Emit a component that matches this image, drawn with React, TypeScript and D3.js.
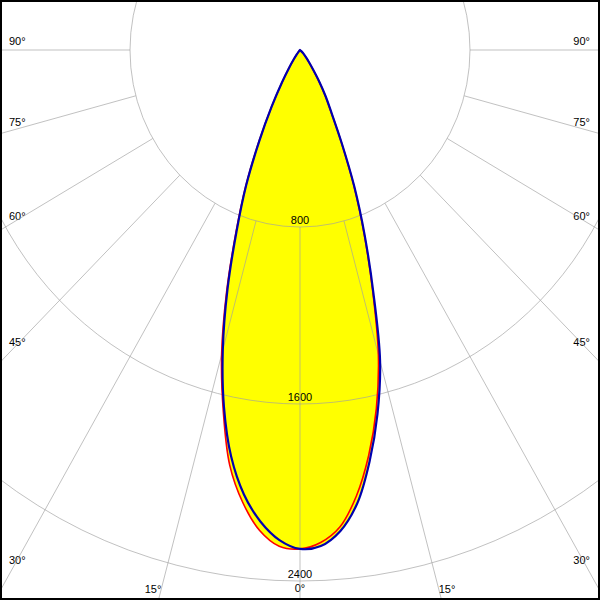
import React from "react";
import * as d3 from "d3";

// Polar angles (gamma, degrees) at which intensities are sampled
const GAMMA = [0, 2.5, 5, 7.5, 10, 12.5, 15, 17.5, 20, 22.5, 25, 27.5, 30, 32.5, 35, 37.5, 40, 45, 50, 55, 60, 70, 80, 90];

// Red curve (C0 - C180 plane), cd
const RED_RIGHT = [2255, 2228, 2163, 2033, 1861, 1660, 1425, 1135, 880, 660, 460, 318, 235, 160, 100, 65, 45, 20, 5, 0, 0, 0, 0, 0];
const RED_LEFT = [2255, 2245, 2180, 2063, 1905, 1669, 1425, 1150, 885, 668, 458, 292, 172, 96, 50, 25, 12, 3, 0, 0, 0, 0, 0, 0];
// Blue curve (C90 - C270 plane), cd
const BLUE_RIGHT = [2257, 2244, 2182, 2066, 1887, 1685, 1456, 1147, 889, 667, 465, 323, 240, 165, 105, 70, 48, 22, 6, 0, 0, 0, 0, 0];
const BLUE_LEFT = [2255, 2217, 2139, 2025, 1866, 1653, 1404, 1135, 874, 662, 452, 289, 170, 95, 50, 25, 12, 3, 0, 0, 0, 0, 0, 0];

// Grid
const RINGS = [800, 1600, 2400, 3200];
const RING_LABELS = ["800", "1600", "2400"];
const SPOKES = [0, 15, 30, 45, 60, 75, 90];
const SPOKE_LABELS = ["0°", "15°", "30°", "45°", "60°", "75°", "90°"];

const W = 600;
const H = 600;
const CX = 300;
const CY = 50;

const rx = d3.scaleLinear().domain([0, 800]).range([0, 170]);
const ry = d3.scaleLinear().domain([0, 800]).range([0, 177]);

const rad = (deg: number) => (deg * Math.PI) / 180;
const px = (side: number, g: number, I: number) => CX + side * rx(I * Math.sin(rad(g)));
const py = (g: number, I: number) => CY + ry(I * Math.cos(rad(g)));

function curvePoints(left: number[], right: number[]): [number, number][] {
  const pts: [number, number][] = [];
  // left side from tip down to 0
  let li = left.findIndex((v) => v === 0);
  if (li < 0) li = left.length - 1;
  for (let i = li; i >= 0; i--) pts.push([px(-1, GAMMA[i], left[i]), py(GAMMA[i], left[i])]);
  let ri = right.findIndex((v) => v === 0);
  if (ri < 0) ri = right.length - 1;
  for (let i = 1; i <= ri; i++) pts.push([px(1, GAMMA[i], right[i]), py(GAMMA[i], right[i])]);
  return pts;
}

const line = d3.line().curve(d3.curveCatmullRom.alpha(0.5));

export default function App() {
  const red = curvePoints(RED_LEFT, RED_RIGHT);
  const blue = curvePoints(BLUE_LEFT, BLUE_RIGHT);
  const redPath = line(red) + "Z";
  const bluePath = line(blue) + "Z";

  const font = "'Liberation Sans', Arial, sans-serif";
  const gridStroke = "#a0a0a0";
  const gridOpacity = 0.65;

  // ring ellipses
  const rings = RINGS.map((r) => (
    <ellipse key={"r" + r} cx={CX} cy={CY} rx={rx(r)} ry={ry(r)} fill="none" stroke={gridStroke} strokeOpacity={gridOpacity} strokeWidth={1} />
  ));

  // spokes from first ring outward
  const spokes: JSX.Element[] = [];
  SPOKES.forEach((a) => {
    const sides = a === 0 ? [1] : [-1, 1];
    sides.forEach((s) => {
      spokes.push(
        <line
          key={"s" + a + "_" + s}
          x1={px(s, a, RINGS[0])}
          y1={py(a, RINGS[0])}
          x2={px(s, a, 5000)}
          y2={py(a, 5000)}
          stroke={gridStroke}
          strokeOpacity={gridOpacity}
          strokeWidth={1}
        />
      );
    });
  });

  // ring labels
  const ringLabels = RING_LABELS.map((t, i) => (
    <text key={"rl" + t} x={CX} y={py(0, RINGS[i]) - 3} textAnchor="middle" fontFamily={font} fontSize={11} fill="#000">
      {t}
    </text>
  ));

  // angle labels
  const angleLabels: JSX.Element[] = [];
  SPOKES.forEach((a, idx) => {
    const label = SPOKE_LABELS[idx];
    if (a === 0) {
      angleLabels.push(
        <text key="al0" x={CX} y={592} textAnchor="middle" fontFamily={font} fontSize={11}>
          {label}
        </text>
      );
      return;
    }
    // intensity at which spoke reaches x offset of 282px
    const Iedge = rx.invert(282) / Math.sin(rad(a));
    const yEdge = py(a, Iedge);
    if (yEdge > 585) {
      // bottom label
      const Ib = ry.invert(540) / Math.cos(rad(a));
      [-1, 1].forEach((s) => {
        angleLabels.push(
          <text key={"al" + a + s} x={px(s, a, Ib) + s * 8} y={593} textAnchor="middle" fontFamily={font} fontSize={11}>
            {label}
          </text>
        );
      });
    } else {
      const off = -5 + (10 * (90 - a)) / 60;
      angleLabels.push(
        <text key={"al" + a + "l"} x={9} y={yEdge + off} textAnchor="start" fontFamily={font} fontSize={11}>
          {label}
        </text>
      );
      angleLabels.push(
        <text key={"al" + a + "r"} x={590} y={yEdge + off} textAnchor="end" fontFamily={font} fontSize={11}>
          {label}
        </text>
      );
    }
  });

  return (
    <svg width={W} height={H} style={{ position: "absolute", left: 0, top: 0, background: "#fff" }}>
      <rect x={0} y={0} width={W} height={H} fill="#fff" />
      <path d={redPath} fill="#ffff00" stroke="none" />
      <path d={bluePath} fill="#ffff00" stroke="none" />
      {ringLabels}
      {angleLabels}
      {rings}
      {spokes}
      <path d={redPath} fill="none" stroke="#ff0000" strokeWidth={1.6} strokeLinejoin="round" />
      <path d={bluePath} fill="none" stroke="#0000b0" strokeWidth={2.2} strokeLinejoin="round" />
      <rect x={1} y={1} width={W - 2} height={H - 2} fill="none" stroke="#000" strokeWidth={2} />
    </svg>
  );
}
